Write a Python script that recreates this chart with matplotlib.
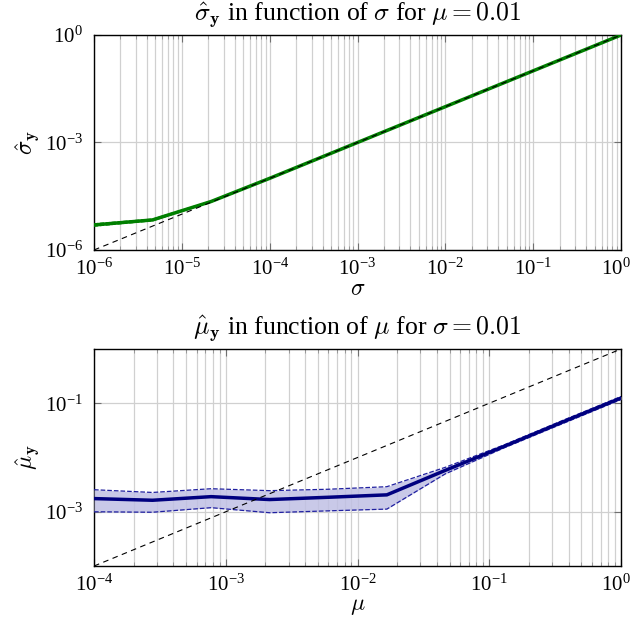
import numpy as np
import matplotlib
matplotlib.use("Agg")
import matplotlib.pyplot as plt
import matplotlib.transforms as mtransforms
from matplotlib.ticker import LogLocator, NullFormatter

plt.rcParams['font.family'] = ['Liberation Serif', 'DejaVu Serif']
plt.rcParams['mathtext.fontset'] = 'cm'
plt.rcParams['font.size'] = 13

# top panel: sigma_hat vs sigma (mu = 0.01)
sigma = [1e-6, 4.64e-6, 2.15e-5, 1e-4, 4.64e-4, 2.15e-3, 1e-2, 4.64e-2, 0.215, 1.0]
sigma_hat = [5.0e-6, 6.9e-6, 2.25e-5, 1.0e-4, 4.64e-4, 2.15e-3, 1e-2, 4.64e-2, 0.215, 1.0]
sigma_hat_lo = [4.6e-6, 6.5e-6, 2.17e-5, 0.97e-4, 4.5e-4, 2.09e-3, 0.97e-2, 4.5e-2, 0.209, 0.97]
sigma_hat_hi = [5.4e-6, 7.3e-6, 2.33e-5, 1.03e-4, 4.78e-4, 2.21e-3, 1.03e-2, 4.78e-2, 0.221, 1.03]
sigma_xticks = [1e-6, 1e-5, 1e-4, 1e-3, 1e-2, 1e-1, 1]

# bottom panel: mu_hat vs mu (sigma = 0.01)
mu = [1e-4, 2.78e-4, 7.74e-4, 2.15e-3, 5.99e-3, 1.67e-2, 4.64e-2, 0.129, 0.359, 1.0]
mu_hat = [1.75e-3, 1.63e-3, 1.9e-3, 1.68e-3, 1.85e-3, 2.05e-3, 5.8e-3, 1.6e-2, 4.5e-2, 0.125]
mu_hat_lo = [1.0e-3, 0.98e-3, 1.19e-3, 0.96e-3, 1.04e-3, 1.12e-3, 5.0e-3, 1.5e-2, 4.2e-2, 0.117]
mu_hat_hi = [2.55e-3, 2.27e-3, 2.66e-3, 2.45e-3, 2.6e-3, 2.9e-3, 6.6e-3, 1.7e-2, 4.8e-2, 0.133]
mu_xticks = [1e-4, 1e-3, 1e-2, 1e-1, 1]

fig = plt.figure(figsize=(6.34, 6.24), dpi=100)
ax1 = fig.add_axes([0.1483, 0.5994, 0.8312, 0.3445])
ax2 = fig.add_axes([0.1483, 0.0929, 0.8312, 0.3478])


def style(ax, xlim, ylim, xticks, yticks):
    ax.set_xscale('log')
    ax.set_yscale('log')
    ax.set_xticks(xticks)
    ax.set_yticks(yticks)
    ax.set_xlim(xlim)
    ax.set_ylim(ylim)
    ax.xaxis.set_minor_locator(LogLocator(base=10, subs=np.arange(2, 10), numticks=100))
    ax.xaxis.set_minor_formatter(NullFormatter())
    ax.yaxis.set_minor_locator(plt.NullLocator())
    ax.grid(True, which='both', axis='x', color='#d0d0d0', lw=0.9)
    ax.grid(True, which='major', axis='y', color='#d0d0d0', lw=0.9)
    ax.set_axisbelow(True)
    ax.tick_params(which='major', direction='in', length=5, width=0.8, color='#707070',
                   top=True, right=True, labelsize=15)
    ax.tick_params(axis='x', which='major', pad=6)
    ax.tick_params(axis='y', which='major', pad=8)
    ax.tick_params(which='minor', direction='in', length=3, width=0.6, color='#909090',
                   top=True, right=True)
    for sp in ax.spines.values():
        sp.set_linewidth(1.0)


def nudge_last_label(ax):
    # keep the rightmost label (10^0) inside the figure
    fig.canvas.draw()
    shift = mtransforms.ScaledTranslation(-4 / 72, 0, fig.dpi_scale_trans)
    for tick in ax.xaxis.get_major_ticks():
        if np.isclose(tick.get_loc(), 1.0):
            tick.label1.set_transform(tick.label1.get_transform() + shift)


# top
style(ax1, (1e-6, 1), (1e-6, 1), sigma_xticks, [1e-6, 1e-3, 1])
ax1.fill_between(sigma, sigma_hat_lo, sigma_hat_hi, color='#80c080', alpha=0.4, lw=0, zorder=3)
ax1.plot(sigma, sigma_hat_lo, '--', color='green', lw=0.8, zorder=3)
ax1.plot(sigma, sigma_hat_hi, '--', color='green', lw=0.8, zorder=3)
ax1.plot(sigma, sigma_hat, color='#007f00', lw=2.5, zorder=4)
ax1.plot([1e-6, 1], [1e-6, 1], 'k--', lw=0.8, dashes=(5, 4), zorder=5)
ax1.set_title(r'$\hat{\sigma}_{\mathbf{y}}$ in function of $\sigma$ for $\mu = 0.01$', fontsize=18.5, pad=10)
ax1.set_xlabel(r'$\sigma$', fontsize=17, labelpad=0)
ax1.set_ylabel(r'$\hat{\sigma}_{\mathbf{y}}$', fontsize=17, labelpad=2)

# bottom
style(ax2, (1e-4, 1), (1e-4, 1), mu_xticks, [1e-3, 1e-1])
ax2.fill_between(mu, mu_hat_lo, mu_hat_hi, color='#c0c0e4', alpha=0.85, lw=0, zorder=3)
ax2.plot(mu, mu_hat_lo, '--', color='#2020a0', lw=0.9, zorder=3)
ax2.plot(mu, mu_hat_hi, '--', color='#2020a0', lw=0.9, zorder=3)
ax2.plot(mu, mu_hat, color='#00007f', lw=2.5, zorder=4)
ax2.plot([1e-4, 1], [1e-4, 1], 'k--', lw=0.8, dashes=(5, 4), zorder=5)
ax2.set_title(r'$\hat{\mu}_{\mathbf{y}}$ in function of $\mu$ for $\sigma = 0.01$', fontsize=18.5, pad=10)
ax2.set_xlabel(r'$\mu$', fontsize=17, labelpad=0)
ax2.set_ylabel(r'$\hat{\mu}_{\mathbf{y}}$', fontsize=17, labelpad=2)

nudge_last_label(ax1)
nudge_last_label(ax2)

fig.savefig('out.png', dpi=100)
